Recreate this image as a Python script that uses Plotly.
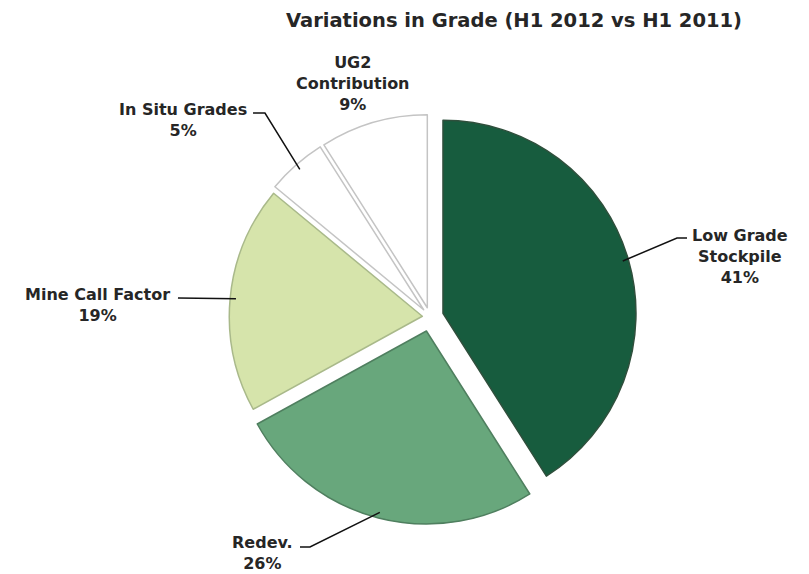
import math

import plotly.graph_objects as go

# Slice data, clockwise from 12 o'clock
labels = ["Low Grade<br>Stockpile", "Redev.", "Mine Call Factor", "In Situ Grades", "UG2<br>Contribution"]
values = [41, 26, 19, 5, 9]
colors = ["#175c3e", "#68a77c", "#d6e4ab", "#ffffff", "#ffffff"]
edge_colors = ["#2f4f3c", "#4f7f5f", "#a9b98a", "#c4c4c4", "#c4c4c4"]
pulls = [0.07, 0.075, 0.04, 0.05, 0.05]

# page has an 8px body margin, so the figure is drawn 8px in from the corner
OFF = 8
W, H = 809 - OFF, 574 - OFF
CX, CY = 430, 317   # pie centre, px in the full window
R = 193             # radius before pull, px
box = 2 * R * (1 + max(pulls))

# label block centre (px) and leader elbow (start, bend) in px; None = no leader
label_layout = [
    ((740, 256), ((687, 238), (677, 238))),
    ((262, 553), ((300, 547), (310, 547))),
    ((97, 305), ((178, 298), (178, 298))),
    ((183, 120), ((253, 113), (265, 113))),
    ((353, 83), None),
]


def px(x, y):
    return (x - OFF) / W, 1 - (y - OFF) / H


total = sum(values)
fig = go.Figure()

x0, y1 = px(CX - box / 2, CY - box / 2)
x1, y0 = px(CX + box / 2, CY + box / 2)
fig.add_trace(go.Pie(
    labels=labels,
    values=values,
    sort=False,
    direction="clockwise",
    rotation=0,
    pull=pulls,
    textinfo="none",
    hoverinfo="label+percent",
    marker=dict(colors=colors, line=dict(color=edge_colors, width=1.5)),
    domain=dict(x=[x0, x1], y=[y0, y1]),
    showlegend=False,
))

annotations = []
shapes = []
cum = 0
for lab, val, pull, (pos, leader) in zip(labels, values, pulls, label_layout):
    mid = (cum + val / 2) / total * 2 * math.pi
    cum += val
    pct = round(val / total * 100)
    tx, ty = px(*pos)
    annotations.append(dict(
        text=f"{lab}<br>{pct}%",
        x=tx, y=ty, xref="paper", yref="paper",
        xanchor="center", yanchor="middle",
        showarrow=False,
        font=dict(family="DejaVu Sans", size=16, color="#262626", weight="bold"),
    ))
    if leader:
        rr = R * (pull + 0.97)
        ex, ey = CX + rr * math.sin(mid), CY - rr * math.cos(mid)
        pts = [px(*leader[0]), px(*leader[1]), px(ex, ey)]
        path = "M " + " L ".join(f"{a:.4f},{b:.4f}" for a, b in pts)
        shapes.append(dict(type="path", path=path, xref="paper", yref="paper",
                           line=dict(color="#111111", width=1.5)))

tx, ty = px(514, 20)
fig.update_layout(
    title=dict(
        text="Variations in Grade (H1 2012 vs H1 2011)",
        x=tx, y=ty, xanchor="center", yanchor="middle",
        font=dict(family="DejaVu Sans", size=19.5, color="#262626", weight="bold"),
    ),
    annotations=annotations,
    shapes=shapes,
    width=W,
    height=H,
    margin=dict(l=0, r=0, t=0, b=0),
    paper_bgcolor="white",
    plot_bgcolor="white",
)

fig.write_html("out.html")
